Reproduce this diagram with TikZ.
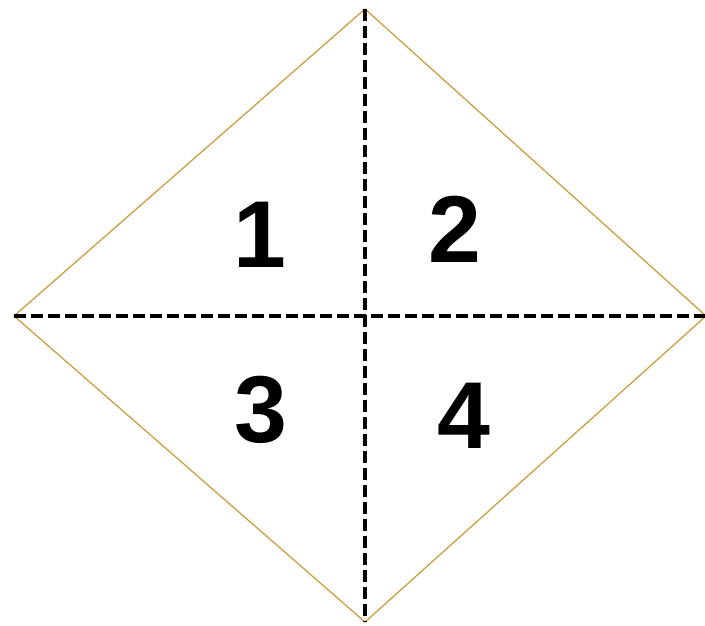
\documentclass[tikz,border=0pt]{standalone}
\usepackage{fontspec}
\setmainfont{Liberation Sans}
\usepackage{tikz}
\definecolor{rimgold}{RGB}{200,160,64}
\tikzset{
    rimline/.style={draw=rimgold, line width=1.3pt},
    splitline/.style={black, line width=3.4pt, dash pattern=on 12pt off 5pt},
    quadlabel/.style={font=\fontsize{95}{95}\selectfont\bfseries, inner sep=0pt}
}

\begin{document}
\begin{tikzpicture}[x=1pt,y=1pt]
    \useasboundingbox (0,0) rectangle (705,625);

    \coordinate (top) at (365,616);
    \coordinate (left) at (14,309);
    \coordinate (right) at (706,309);
    \coordinate (bottom) at (365,3);
    \coordinate (mid) at (365,309);

    \draw [rimline](top) -- (right) -- (bottom) -- (left) -- cycle;

    \draw [splitline](top) -- (bottom);
    \draw [splitline](left) -- (right);

    \node[quadlabel] (q1) at (260,390) {1};
    \node[quadlabel] (q2) at (455,396) {2};
    \node[quadlabel] (q3) at (261,215) {3};
    \node[quadlabel] (q4) at (464,209) {4};

\end{tikzpicture}
\end{document}
